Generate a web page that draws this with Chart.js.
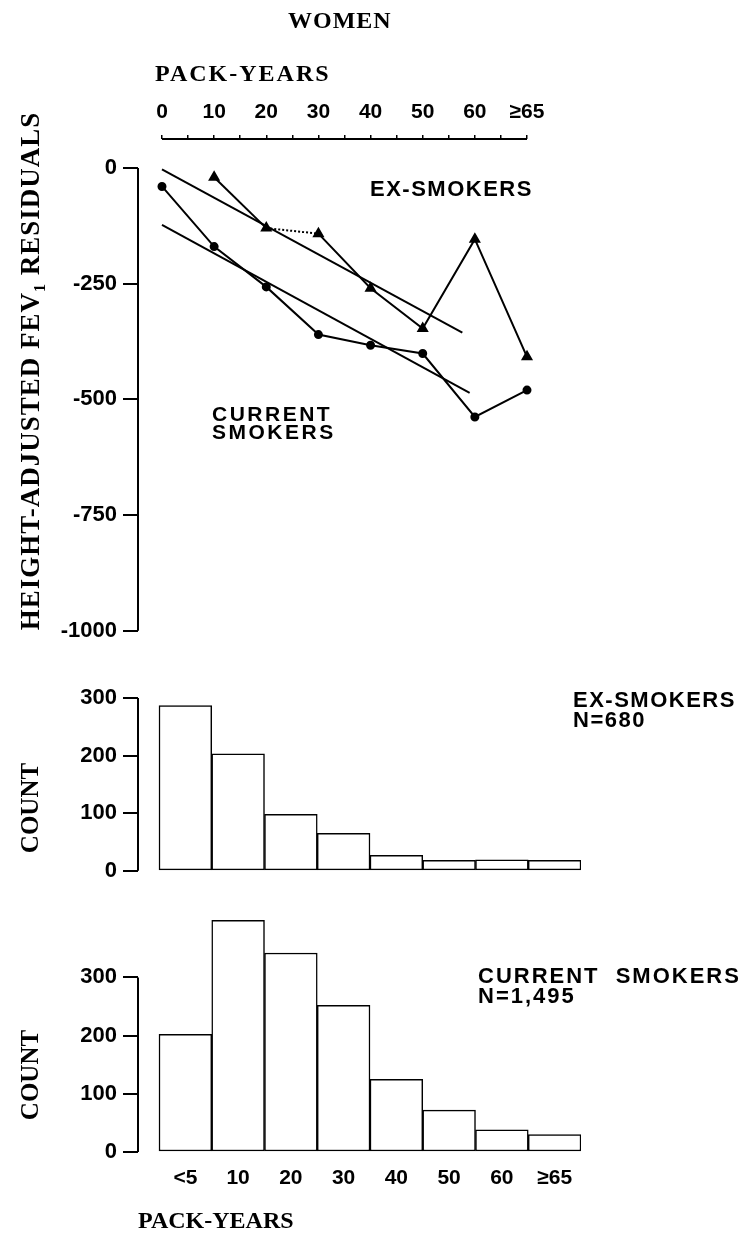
<!DOCTYPE html>
<html>
<head>
<meta charset="utf-8">
<script src="https://cdn.jsdelivr.net/npm/chart.js@4"></script>
<style>
body{margin:0;background:#fff;}
#page{position:relative;width:750px;height:1236px;overflow:hidden;color:#000;}
canvas{position:absolute;left:0;}
.lbl{position:absolute;font-family:"Liberation Sans",Arial,sans-serif;font-weight:bold;white-space:nowrap;line-height:1;}
.serif{font-family:"Liberation Serif","Times New Roman",serif;}
.vert{position:absolute;width:600px;height:30px;line-height:30px;text-align:center;transform:rotate(-90deg);
  font-family:"Liberation Serif","Times New Roman",serif;font-weight:bold;font-size:25px;white-space:nowrap;}
</style>
</head>
<body>
<div id="page">
  <canvas id="fevChart" width="750" height="650" style="top:0"></canvas>
  <canvas id="exChart" width="750" height="230" style="top:660px"></canvas>
  <canvas id="curChart" width="750" height="336" style="top:900px"></canvas>

  <div class="lbl serif" style="left:288px;top:8px;font-size:24px;letter-spacing:1px">WOMEN</div>
  <div class="lbl serif" style="left:155px;top:61px;font-size:24px;letter-spacing:2px">PACK-YEARS</div>
  <div class="vert" style="left:-270px;top:356px;font-size:27px;letter-spacing:1px">HEIGHT-ADJUSTED FEV<sub style="font-size:16px;line-height:0">1</sub> RESIDUALS</div>
  <div class="vert" style="left:-270px;top:793px">COUNT</div>
  <div class="vert" style="left:-270px;top:1060px">COUNT</div>

  <div class="lbl" style="left:370px;top:178px;font-size:22px;letter-spacing:1.5px">EX-SMOKERS</div>
  <div class="lbl" style="left:212px;top:405px;font-size:21px;letter-spacing:2.5px;line-height:18px">CURRENT<br>SMOKERS</div>
  <div class="lbl" style="left:573px;top:690px;font-size:22px;letter-spacing:1.5px;line-height:20px">EX-SMOKERS<br>N=680</div>
  <div class="lbl" style="left:478px;top:966px;font-size:22px;letter-spacing:2px;word-spacing:8px;line-height:20px">CURRENT SMOKERS<br>N=1,495</div>
</div>

<script>
// pack-years, top panel (>=65 group plotted at 70)
const packX = [0, 10, 20, 30, 40, 50, 60, 70]
const currentResid = [-40, -170, -257, -360, -383, -401, -538, -480]
const exX = [10, 20, 30, 40, 50, 60, 70]
const exResid = [-20, -130, -142, -260, -347, -154, -408]
// fitted lines
const currentFitX = [0, 59]
const currentFitY = [-123, -486]
const exFitX = [0, 57.6]
const exFitY = [-3, -356]
// top panel ticks
const packTicks = [0, 5, 10, 15, 20, 25, 30, 35, 40, 45, 50, 55, 60, 65, 70]
const fevTicks = [0, -250, -500, -750, -1000]

// histograms
const packLabels = ['<5', '10', '20', '30', '40', '50', '60', '≥65']
const exCounts = [287, 203, 98, 65, 27, 18, 19, 18]
const currentCounts = [202, 398, 342, 252, 125, 72, 38, 30]
const countTicks = [0, 100, 200, 300]

Chart.defaults.color = '#000'
Chart.defaults.animation = false

const sansBold = size => ({family: '"Liberation Sans", Arial, sans-serif', weight: 'bold', size: size})

// axis lines that stop at given values (not the whole chart area)
const axisLines = {
	id: 'axisLines',
	afterDraw(chart, args, opts) {
		const ctx = chart.ctx
		const a = chart.chartArea
		ctx.save()
		ctx.strokeStyle = '#000'
		ctx.lineWidth = 2
		if (opts.y) {
			ctx.beginPath()
			ctx.moveTo(a.left, chart.scales.y.getPixelForValue(opts.y[0]))
			ctx.lineTo(a.left, chart.scales.y.getPixelForValue(opts.y[1]))
			ctx.stroke()
		}
		if (opts.x) {
			ctx.beginPath()
			ctx.moveTo(chart.scales.x.getPixelForValue(opts.x[0]), a.top)
			ctx.lineTo(chart.scales.x.getPixelForValue(opts.x[1]), a.top)
			ctx.stroke()
		}
		ctx.restore()
	}
}

function toXY(xs, ys) {
	return xs.map((x, i) => ({x: x, y: ys[i]}))
}

new Chart(document.getElementById('fevChart'), {
	type: 'line',
	data: {
		datasets: [
			{
				label: 'current',
				data: toXY(packX, currentResid),
				borderColor: '#000', backgroundColor: '#000', borderWidth: 2,
				pointStyle: 'circle', pointRadius: 3.5, clip: false
			},
			{
				label: 'ex',
				data: toXY(exX, exResid),
				borderColor: '#000', backgroundColor: '#000', borderWidth: 2,
				pointStyle: 'triangle', pointRadius: 5, clip: false,
				segment: {
					borderDash: c => c.p0DataIndex === 1 ? [2, 2] : undefined
				}
			},
			{
				label: 'current fit',
				data: toXY(currentFitX, currentFitY),
				borderColor: '#000', borderWidth: 2, pointRadius: 0
			},
			{
				label: 'ex fit',
				data: toXY(exFitX, exFitY),
				borderColor: '#000', borderWidth: 2, pointRadius: 0
			}
		]
	},
	options: {
		responsive: false,
		layout: {padding: {left: 0, right: 223, top: 0, bottom: 18}},
		plugins: {
			legend: {display: false},
			tooltip: {enabled: false},
			axisLines: {x: [0, 70], y: [0, -1000]}
		},
		scales: {
			x: {
				type: 'linear',
				position: 'top',
				min: -4.6,
				max: 70,
				afterFit: s => { s.height = 139 },
				afterBuildTicks: s => { s.ticks = packTicks.map(v => ({value: v})) },
				border: {display: false},
				grid: {drawOnChartArea: false, tickLength: 4, color: '#000', lineWidth: 1.5},
				ticks: {
					autoSkip: false, maxRotation: 0, padding: 10,
					font: sansBold(21),
					callback: v => v % 10 ? '' : (v === 70 ? '≥65' : String(v))
				}
			},
			y: {
				min: -1000,
				max: 62.5,
				afterFit: s => { s.width = 138 },
				afterBuildTicks: s => { s.ticks = fevTicks.map(v => ({value: v})) },
				border: {display: false},
				grid: {drawOnChartArea: false, tickLength: 15, color: '#000', lineWidth: 2},
				ticks: {padding: 6, font: sansBold(22), callback: v => String(v)}
			}
		}
	},
	plugins: [axisLines]
})

function histogram(id, counts, yMax, padTop, showX) {
	return new Chart(document.getElementById(id), {
		type: 'bar',
		data: {
			datasets: [{
				data: counts.map((v, i) => ({x: i, y: v})),
				backgroundColor: '#fff',
				borderColor: '#000',
				borderWidth: 1.5,
				borderSkipped: false,
				barPercentage: 1,
				categoryPercentage: 1
			}]
		},
		options: {
			responsive: false,
			layout: {padding: {left: 0, right: 169, top: padTop, bottom: showX ? 0 : 17}},
			plugins: {
				legend: {display: false},
				tooltip: {enabled: false},
				axisLines: {y: [0, 300]}
			},
			scales: {
				x: {
					type: 'linear',
					display: showX,
					offset: false,
					min: -0.898,
					max: 7.5,
					afterFit: s => { if (showX) s.height = 84 },
					afterBuildTicks: s => { s.ticks = packLabels.map((l, i) => ({value: i})) },
					border: {display: false},
					grid: {display: false, offset: false},
					ticks: {
						autoSkip: false, maxRotation: 0, padding: 6,
						font: sansBold(21),
						callback: v => packLabels[v] ?? ''
					},
					title: {
						display: true, text: 'PACK-YEARS', align: 'start',
						font: {family: '"Liberation Serif", "Times New Roman", serif', weight: 'bold', size: 24},
						padding: {top: 0, bottom: 0}
					}
				},
				y: {
					min: 0,
					max: yMax,
					afterFit: s => { s.width = 138 },
					afterBuildTicks: s => { s.ticks = countTicks.map(v => ({value: v})) },
					border: {display: false},
					grid: {drawOnChartArea: false, tickLength: 15, color: '#000', lineWidth: 2},
					ticks: {padding: 6, font: sansBold(22)}
				}
			}
		},
		plugins: [axisLines]
	})
}

histogram('exChart', exCounts, 300, 38, false)
histogram('curChart', currentCounts, 400, 19, true)
</script>
</body>
</html>
